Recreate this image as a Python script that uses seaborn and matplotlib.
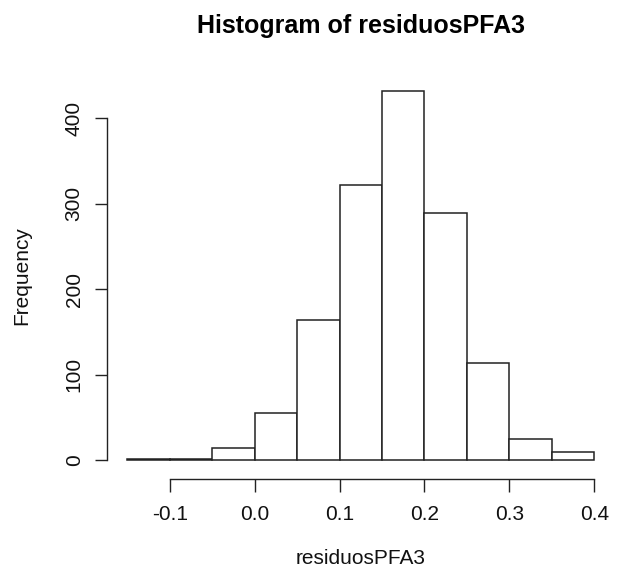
import numpy as np
import pandas as pd
import matplotlib
matplotlib.use("Agg")
import matplotlib.pyplot as plt
import seaborn as sns

# Histogram bins (width 0.05)
bin_edges = [-0.15, -0.10, -0.05, 0.00, 0.05, 0.10, 0.15, 0.20, 0.25, 0.30, 0.35, 0.40]
counts = [1, 1, 14, 55, 164, 322, 432, 289, 113, 25, 9]
x_ticks = [-0.1, 0.0, 0.1, 0.2, 0.3, 0.4]
x_tick_labels = ["-0.1", "0.0", "0.1", "0.2", "0.3", "0.4"]
y_ticks = [0, 100, 200, 300, 400]

edges = np.array(bin_edges)
df = pd.DataFrame({
    "mid": (edges[:-1] + edges[1:]) / 2,
    "count": counts,
})

sns.set_style("white")
plt.rcParams['font.family'] = ['Liberation Sans', 'DejaVu Sans']
plt.rcParams['text.color'] = 'black'
plt.rcParams['axes.labelcolor'] = '#111111'
plt.rcParams['xtick.color'] = '#111111'
plt.rcParams['ytick.color'] = '#111111'

fig = plt.figure(figsize=(6.28, 5.74), dpi=100)
ax = fig.add_axes([0.173, 0.173, 0.803, 0.694])

sns.histplot(
    data=df,
    x="mid",
    weights="count",
    bins=bin_edges,
    color="white",
    edgecolor="#222222",
    linewidth=1.1,
    alpha=1,
    ax=ax,
)

# R-style 4% padding on the axis ranges
xr = edges[-1] - edges[0]
ax.set_xlim(edges[0] - 0.04 * xr, edges[-1] + 0.04 * xr)
ymax = max(counts)
ax.set_ylim(-0.04 * ymax, ymax * 1.04)

for side in ["top", "right"]:
    ax.spines[side].set_visible(False)
for side in ["left", "bottom"]:
    ax.spines[side].set_color("#222222")
    ax.spines[side].set_linewidth(1.0)
ax.spines["left"].set_position(("outward", 1))
ax.spines["bottom"].set_position(("outward", 3))
ax.spines["left"].set_bounds(y_ticks[0], y_ticks[-1])
ax.spines["bottom"].set_bounds(x_ticks[0], x_ticks[-1])

ax.set_xticks(x_ticks)
ax.set_xticklabels(x_tick_labels)
ax.set_yticks(y_ticks)
ax.set_yticklabels([str(v) for v in y_ticks], rotation=90, va="center")
ax.tick_params(axis="both", direction="out", length=9, width=1.0,
               color="#222222", labelsize=15, bottom=True, left=True)
ax.tick_params(axis="x", pad=10)
ax.tick_params(axis="y", pad=8)

ax.set_xlabel("residuosPFA3", fontsize=15, labelpad=18)
ax.set_ylabel("Frequency", fontsize=15, labelpad=24)
ax.set_title("Histogram of residuosPFA3", fontsize=18, fontweight="bold",
             pad=31, color="black")
ax.grid(False)

fig.savefig("out.png", dpi=100)
